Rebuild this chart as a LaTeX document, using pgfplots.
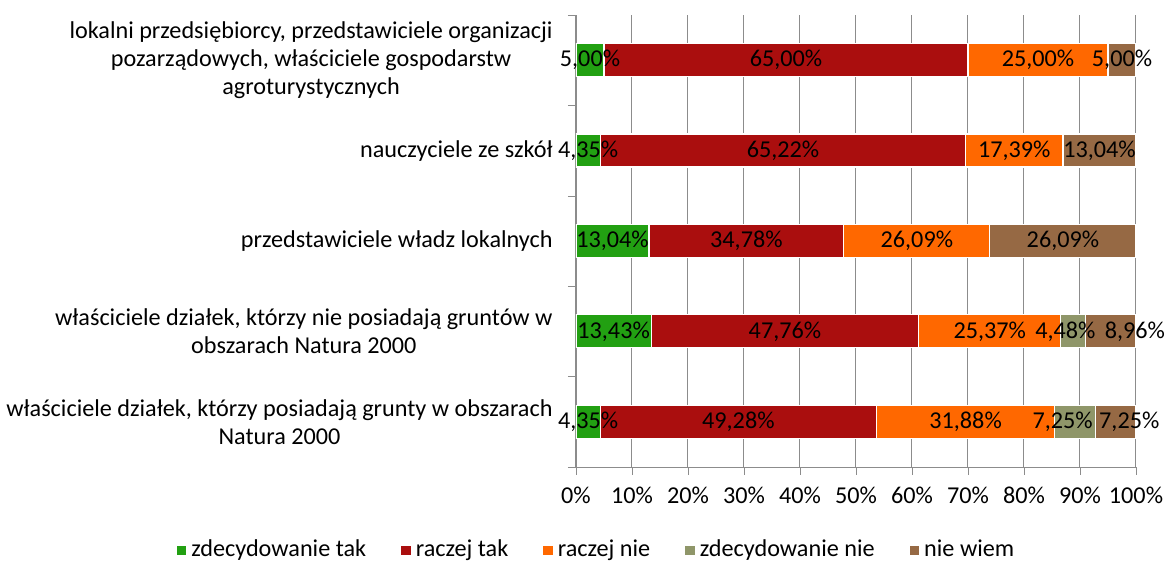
\documentclass[border=0pt]{standalone}
\usepackage{pgfplots}
\pgfplotsset{compat=1.18}
\usepackage{fontspec}
\setmainfont{Carlito}

\definecolor{cZT}{RGB}{34,160,18}
\definecolor{cRT}{RGB}{170,14,14}
\definecolor{cRN}{RGB}{255,104,0}
\definecolor{cZN}{RGB}{143,150,105}
\definecolor{cNW}{RGB}{150,105,68}
\definecolor{gridc}{RGB}{140,140,140}

\begin{document}
\fontsize{12.1}{14}\selectfont
\begin{tikzpicture}
\useasboundingbox (-288pt,-47pt) rectangle (296pt,233.5pt);
\pgfplotsset{common/.style={
    width=280pt, height=226pt, scale only axis,
    xmin=0, xmax=100, ymin=0.5, ymax=5.5}}
\begin{axis}[
    common,
    xbar stacked,
    bar width=16.5pt,
    axis x line*=bottom, axis y line*=left,
    axis line style={-, draw=gridc},
    xtick={0,10,...,100},
    xticklabel={\pgfmathprintnumber{\tick}\%},
    xticklabel style={yshift=-2pt},
    /pgf/number format/assume math mode=true,
    tick align=outside,
    major tick length=4pt,
    minor tick length=4pt,
    tick style={draw=gridc},
    xmajorgrids,
    grid style={draw=gridc, line width=0.5pt},
    ytick={1,...,5},
    major y tick style={draw=none},
    minor ytick={0.5,1.5,...,5.5},
    yticklabels={
      {właściciele działek, którzy posiadają grunty w obszarach\\Natura 2000},
      {właściciele działek, którzy nie posiadają gruntów w\\obszarach Natura 2000},
      {przedstawiciele władz lokalnych},
      {nauczyciele ze szkół},
      {lokalni przedsiębiorcy, przedstawiciele organizacji\\pozarządowych, właściciele gospodarstw\\agroturystycznych}},
    yticklabel style={align=center, xshift=-3.5pt},
    legend columns=-1,
    legend style={at={(0.0375,-0.184)}, anchor=center, draw=none,
                  /tikz/every even column/.append style={column sep=15pt}},
    legend image code/.code={\fill[#1] (0pt,-2.6pt) rectangle (5.2pt,2.6pt);},
    every axis plot/.append style={draw=white, line width=0.6pt},
  ]
\addplot[fill=cZT] coordinates {(5,5) (4.35,4) (13.04,3) (13.43,2) (4.35,1)};
\addlegendentry{zdecydowanie tak}
\addplot[fill=cRT] coordinates {(65,5) (65.22,4) (34.78,3) (47.76,2) (49.28,1)};
\addlegendentry{raczej tak}
\addplot[fill=cRN] coordinates {(25,5) (17.39,4) (26.09,3) (25.37,2) (31.88,1)};
\addlegendentry{raczej nie}
\addplot[fill=cZN] coordinates {(0,5) (0,4) (0,3) (4.48,2) (7.25,1)};
\addlegendentry{zdecydowanie nie}
\addplot[fill=cNW] coordinates {(5,5) (13.04,4) (26.09,3) (8.96,2) (7.25,1)};
\addlegendentry{nie wiem}
\end{axis}
% segment labels, centred in each segment (crowded ones pushed apart)
\begin{axis}[common, hide axis, clip=false]
\addplot[draw=none, mark=none, nodes near coords={\pgfplotspointmeta\%},
  point meta=explicit symbolic,
  every node near coord/.append style={anchor=center, inner sep=0pt, text=black}]
  table[meta=lab] {
x y lab
2.5 5 5,00
37.5 5 65,00
82.5 5 25,00
97.5 5 5,00
2.175 4 4,35
36.96 4 65,22
78.265 4 17,39
93.48 4 13,04
6.52 3 13,04
30.43 3 34,78
60.865 3 26,09
86.955 3 26,09
6.715 2 13,43
37.31 2 47,76
73.875 2 25,37
87.4 2 4,48
99.8 2 8,96
2.175 1 4,35
28.99 1 49,28
69.57 1 31,88
86.9 1 7,25
98.8 1 7,25
};
\end{axis}
\end{tikzpicture}
\end{document}
